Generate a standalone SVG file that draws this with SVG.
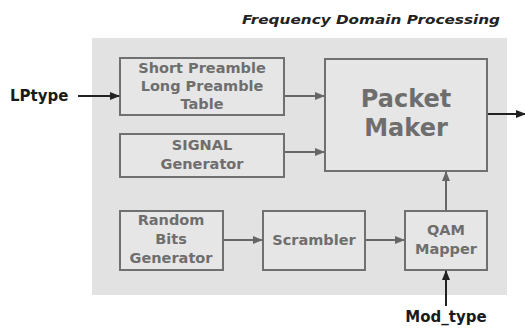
<svg xmlns="http://www.w3.org/2000/svg" width="525" height="329" viewBox="0 0 525 329">
<defs>
<marker id="ag" markerWidth="10" markerHeight="8" refX="9" refY="4" orient="auto" markerUnits="userSpaceOnUse"><path d="M0,0 L10,4 L0,8 Z" fill="#666"/></marker>
<marker id="ak" markerWidth="10" markerHeight="8" refX="9" refY="4" orient="auto" markerUnits="userSpaceOnUse"><path d="M0,0 L10,4 L0,8 Z" fill="#222"/></marker>
<style>
.box{fill:#e6e6e6;stroke:#707070;stroke-width:2}
.t{font-family:"DejaVu Sans",Verdana,sans-serif;font-weight:bold;fill:#6e6e6e;text-anchor:middle;font-size:14.5px}
.big{font-size:24px}
.ext{font-family:"DejaVu Sans",Verdana,sans-serif;font-weight:bold;fill:#1a1a1a;font-size:15px}
.cg{stroke:#666;stroke-width:2;fill:none;marker-end:url(#ag)}
.ck{stroke:#222;stroke-width:2;fill:none;marker-end:url(#ak)}
</style>
</defs>
<rect x="0" y="0" width="525" height="329" fill="#fff"/>
<rect id="panel" x="92" y="38" width="415" height="257" fill="#e2e2e2"/>
<text x="500" y="24" font-family="'DejaVu Sans',Verdana,sans-serif" font-weight="bold" font-style="italic" font-size="13" fill="#222" text-anchor="end" textLength="258" lengthAdjust="spacingAndGlyphs">Frequency Domain Processing</text>
<g id="preamble"><rect class="box" x="120" y="58" width="164" height="57"/><text class="t" x="202" y="73">Short Preamble</text><text class="t" x="202" y="91">Long Preamble</text><text class="t" x="202" y="109">Table</text></g>
<g id="packet"><rect class="box" x="325" y="59" width="162" height="112"/><text class="t big" x="406" y="107">Packet</text><text class="t big" x="406" y="136">Maker</text></g>
<g id="signal"><rect class="box" x="120" y="134" width="164" height="43"/><text class="t" x="202" y="150">SIGNAL</text><text class="t" x="202" y="169">Generator</text></g>
<g id="random"><rect class="box" x="120" y="211" width="103" height="59"/><text class="t" x="171" y="225">Random</text><text class="t" x="171" y="244">Bits</text><text class="t" x="171" y="263">Generator</text></g>
<g id="scrambler"><rect class="box" x="263" y="211" width="102" height="59"/><text class="t" x="314" y="245">Scrambler</text></g>
<g id="qam"><rect class="box" x="405" y="211" width="82" height="59"/><text class="t" x="446" y="235">QAM</text><text class="t" x="446" y="254">Mapper</text></g>
<g id="lptype"><text class="ext" x="10" y="101">LPtype</text></g>
<g id="modtype"><text class="ext" x="446" y="322" text-anchor="middle" font-size="16.5px">Mod_type</text></g>
<g id="connectors">
<line class="ck" x1="78" y1="96" x2="119" y2="96"/>
<line class="cg" x1="285" y1="96" x2="324" y2="96"/>
<line class="cg" x1="285" y1="152" x2="324" y2="152"/>
<line class="cg" x1="224" y1="240" x2="262" y2="240"/>
<line class="cg" x1="366" y1="240" x2="404" y2="240"/>
<line class="cg" x1="446" y1="210" x2="446" y2="172"/>
<line class="ck" x1="446" y1="306" x2="446" y2="271"/>
<line class="ck" x1="488" y1="114" x2="525" y2="114"/>
</g>
</svg>
